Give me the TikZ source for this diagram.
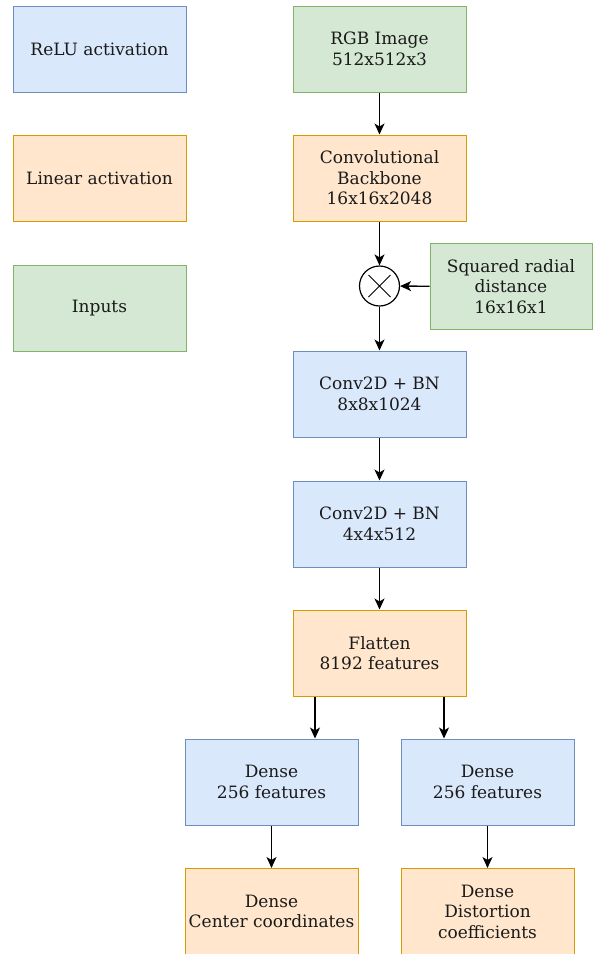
\documentclass[tikz,border=0pt]{standalone}
\usepackage{fontspec}
\setmainfont{DejaVu Serif}
\usetikzlibrary{arrows.meta}
\definecolor{bfill}{HTML}{DAE8FC}\definecolor{bdraw}{HTML}{6C8EBF}
\definecolor{ofill}{HTML}{FFE6CC}\definecolor{odraw}{HTML}{D79B00}
\definecolor{gfill}{HTML}{D5E8D4}\definecolor{gdraw}{HTML}{82B366}
\definecolor{txt}{HTML}{1A1A1A}
\begin{document}
\begin{tikzpicture}[x=1pt,y=-1pt,
  box/.style={draw,line width=1pt,minimum width=173pt,minimum height=86pt,align=center,font=\fontsize{17}{20.5}\selectfont,text=txt,inner sep=0pt},
  bl/.style={box,fill=bfill,draw=bdraw},
  or/.style={box,fill=ofill,draw=odraw},
  gr/.style={box,fill=gfill,draw=gdraw},
  arr/.style={-{Stealth[length=11pt,width=10pt,inset=3pt]},line width=1.3pt,black}]
\useasboundingbox (0,0) rectangle (593,954);
\begin{scope}
\clip (0,0) rectangle (593,954);
\node[bl] (relu) at (99.5,49) {ReLU activation};
\node[or] (lin) at (99.5,178) {Linear activation};
\node[gr] (inp) at (99.5,308) {Inputs};
\node[gr] (rgb) at (379.5,49) {RGB Image\\512x512x3};
\node[or] (cb) at (379.5,178) {Convolutional\\Backbone\\16x16x2048};
\node[draw,circle,line width=1.2pt,minimum size=40pt,inner sep=0pt,fill=white] (mul) at (379.5,286) {};
\draw[line width=0.9pt] (mul.center) ++(-11,-11) -- ++(22,22) (mul.center) ++(11,-11) -- ++(-22,22);
\node[gr,minimum width=162pt] (sq) at (511,286.5) {Squared radial\\distance\\16x16x1};
\node[bl] (c1) at (379.5,394) {Conv2D + BN\\8x8x1024};
\node[bl] (c2) at (379.5,524) {Conv2D + BN\\4x4x512};
\node[or] (fl) at (379.5,653) {Flatten\\8192 features};
\node[bl] (dl) at (271.5,782) {Dense\\256 features};
\node[bl] (dr) at (487.5,782) {Dense\\256 features};
\node[or,anchor=north] (ol) at (271.5,868) {Dense\\Center coordinates};
\node[or,anchor=north] (orr) at (487.5,868) {Dense\\Distortion\\coefficients};
\draw[arr] (rgb) -- (cb);
\draw[arr] (cb) -- (mul);
\draw[arr] (sq) -- (mul);
\draw[arr] (mul) -- (c1);
\draw[arr] (c1) -- (c2);
\draw[arr] (c2) -- (fl);
\coordinate (fa) at ([xshift=-64.5pt]fl.south);
\coordinate (fb) at ([xshift=64.5pt]fl.south);
\draw[arr] (fa) -- (fa |- dl.north);
\draw[arr] (fb) -- (fb |- dr.north);
\draw[arr] (dl) -- (ol);
\draw[arr] (dr) -- (orr);
\end{scope}
\end{tikzpicture}
\end{document}
